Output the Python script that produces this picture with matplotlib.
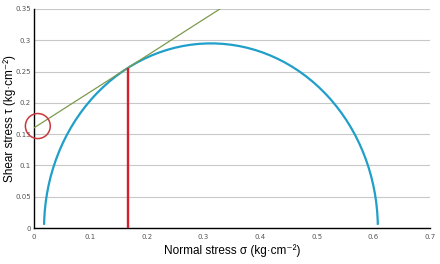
import matplotlib
matplotlib.use("Agg")
import matplotlib.pyplot as plt
from matplotlib.patches import Arc, Ellipse

# Mohr circle
sigma3 = 0.018
sigma1 = 0.608
# tangent (failure envelope) end points
env_x = [0.0, 0.334]
env_y = [0.160, 0.353]
# tangent point
tan_x = 0.1655
tan_y = 0.2555
# highlighted intercept
mark_x = 0.007
mark_y = 0.163

xticks = [0, 0.1, 0.2, 0.3, 0.4, 0.5, 0.6, 0.7]
xtick_labels = ["0", "0.1", "0.2", "0.3", "0.4", "0.5", "0.6", "0.7"]
yticks = [0, 0.05, 0.1, 0.15, 0.2, 0.25, 0.3, 0.35]
ytick_labels = ["0", "0.05", "0.1", "0.15", "0.2", "0.25", "0.3", "0.35"]

fig = plt.figure(figsize=(4.4, 2.64), dpi=100)
ax = fig.add_axes([0.077, 0.136, 0.9, 0.83])

center = (sigma1 + sigma3) / 2
radius = (sigma1 - sigma3) / 2
ax.add_patch(Arc((center, 0), 2 * radius, 2 * radius, theta1=1, theta2=179,
                 color="#1f9fc9", lw=1.6, zorder=3))
ax.plot(env_x, env_y, color="#7c9a4c", lw=0.9, zorder=4)
ax.vlines(tan_x, 0, tan_y, color="#d4202c", lw=1.7, zorder=5)
ax.add_patch(Ellipse((mark_x, mark_y), 0.044, 0.040, fill=False,
                     edgecolor="#c8383c", lw=1.1, zorder=6, clip_on=False))

ax.set_xlim(0, 0.7)
ax.set_ylim(0, 0.35)
ax.set_xticks(xticks)
ax.set_xticklabels(xtick_labels)
ax.set_yticks(yticks)
ax.set_yticklabels(ytick_labels)
ax.tick_params(length=0, labelsize=5, labelcolor="#555555")
ax.tick_params(axis="y", pad=2)
ax.tick_params(axis="x", pad=4)
ax.yaxis.grid(True, color="#c8c8c8", lw=0.8)
ax.set_axisbelow(True)
for s in ["top", "right"]:
    ax.spines[s].set_visible(False)
for s in ["left", "bottom"]:
    ax.spines[s].set_linewidth(1.0)
    ax.spines[s].set_color("black")

lab_font = ["Liberation Sans", "DejaVu Sans"]
ax.set_xlabel("Normal stress σ (kg·cm⁻²)", fontsize=8.5,
              family=lab_font, labelpad=3)
ax.set_ylabel("Shear stress τ (kg·cm⁻²)", fontsize=8.5,
              family=lab_font)
ax.yaxis.set_label_coords(-0.046, 0.5)

fig.savefig("out.png", dpi=100)
